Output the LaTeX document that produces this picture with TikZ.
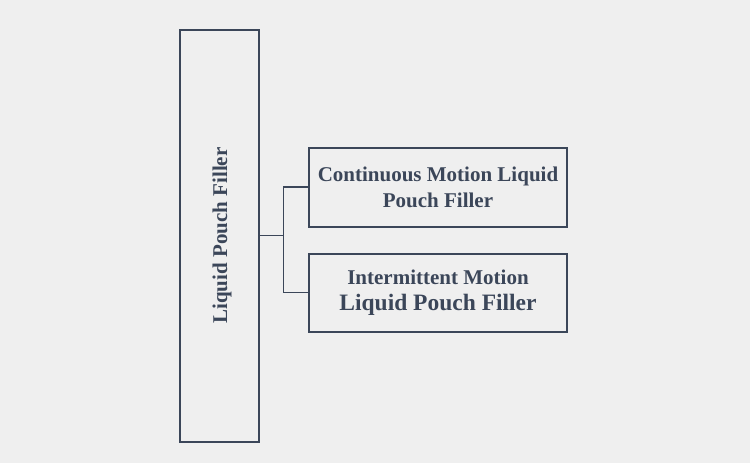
\documentclass[tikz,border=0pt]{standalone}
\usepackage{fontspec}
\setmainfont{Liberation Serif}
\definecolor{bg}{HTML}{EFEFEF}
\definecolor{ink}{HTML}{3B4659}

\begin{document}
\begin{tikzpicture}[x=1pt,y=-1pt,box/.style={draw=ink, line width=2pt, inner sep=0pt, fill=bg},title/.style={text=ink, font=\bfseries\fontsize{21}{26}\selectfont, align=center},link/.style={draw=ink, line width=1.2pt}]
\fill[bg] (0,0) rectangle (750,463);
\node[box, minimum width=79, minimum height=412] (main) at (219.5,235.5) {};
\node[title, rotate=90] (mainlabel) at ([xshift=2.5]main.center) {Liquid Pouch Filler};
\node[box, minimum width=258, minimum height=79] (cont) at (438,187) {};
\node[title] (contlabel) at (cont.center) {Continuous Motion Liquid\\ Pouch Filler};
\node[box, minimum width=258, minimum height=78] (inter) at (438,292.5) {};
\node[title] (interlabel) at (inter.center) {Intermittent Motion\\ {\fontsize{23.5}{28}\selectfont Liquid Pouch Filler}};
\coordinate (split) at (283.5,235.5);
\draw[link] (main.east) -- (split);
\draw[link] (cont.west) -| (split) |- (inter.west);
\end{tikzpicture}
\end{document}
